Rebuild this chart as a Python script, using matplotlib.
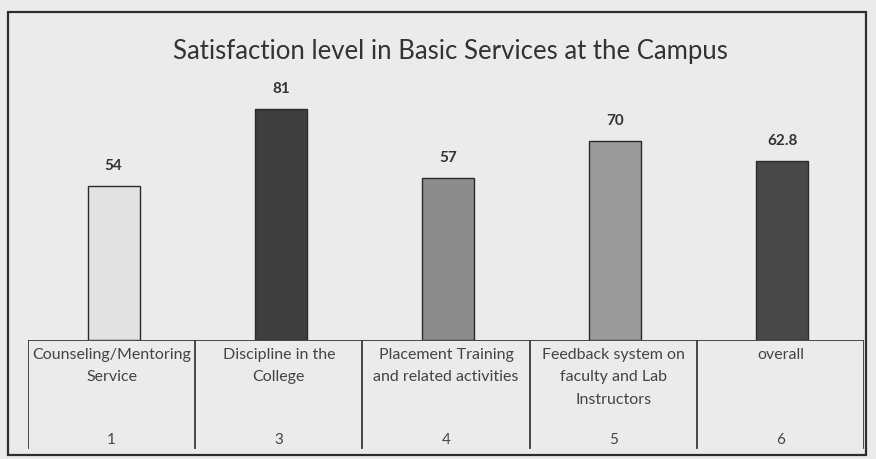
import matplotlib.pyplot as plt
from matplotlib.patches import Rectangle

# chart data
categories = ["Counseling/Mentoring\nService", "Discipline in the\nCollege",
              "Placement Training\nand related activities",
              "Feedback system on\nfaculty and Lab\nInstructors", "overall"]
serial_no = ["1", "3", "4", "5", "6"]
values = [54, 81, 57, 70, 62.8]
value_labels = ["54", "81", "57", "70", "62.8"]
bar_colors = ["#e2e2e2", "#3e3e3e", "#8c8c8c", "#9b9b9b", "#484848"]

plt.rcParams['font.family'] = ['Lato', 'DejaVu Sans']

W, H = 876, 459
fig = plt.figure(figsize=(W / 100, H / 100), dpi=100)
fig.patch.set_facecolor("#ebebeb")

# outer frame of the printed chart
fig.patches.append(Rectangle((8 / W, 4 / H), 858 / W, 443 / H, transform=fig.transFigure,
                             fill=False, edgecolor="#2e2e2e", linewidth=1.6))

left, width = 30 / W, 836 / W
base = 119 / H
ax = fig.add_axes([left, base, width, 90 * 2.85 / H])
ax.set_facecolor("none")
x = list(range(len(values)))
bars = ax.bar(x, values, width=0.31, color=bar_colors, edgecolor="#2a2a2a", linewidth=1.0)
for b, lab in zip(bars, value_labels):
    ax.text(b.get_x() + b.get_width() / 2, b.get_height() + 4.5, lab,
            ha="center", va="bottom", fontsize=11, fontweight="bold", color="#333333")
ax.set_xlim(-0.5, 4.5)
ax.set_ylim(0, 90)
ax.axis("off")

fig.text(450 / W, 1 - 51 / H, "Satisfaction level in Basic Services at the Campus",
         ha="center", va="center", fontsize=18.5, color="#333333")

# table under the bars
tab = fig.add_axes([28 / W, 7 / H, width, 112 / H])
tab.set_facecolor("none")
tab.set_xlim(-0.5, 4.5)
tab.set_ylim(0, 112)
tab.axis("off")
tab.plot([-0.5, 4.5], [112, 112], color="#3a3a3a", lw=1.3)
for i in range(len(values) + 1):
    tab.plot([i - 0.5, i - 0.5], [4, 112], color="#3a3a3a", lw=1.3)
for i, (cat, n) in enumerate(zip(categories, serial_no)):
    tab.text(i, 104, cat, ha="center", va="top", fontsize=11.5, color="#444444",
             linespacing=1.75)
    tab.text(i, 12, n, ha="center", va="center", fontsize=11, color="#444444")

fig.savefig("out.png", dpi=100, facecolor=fig.get_facecolor())
